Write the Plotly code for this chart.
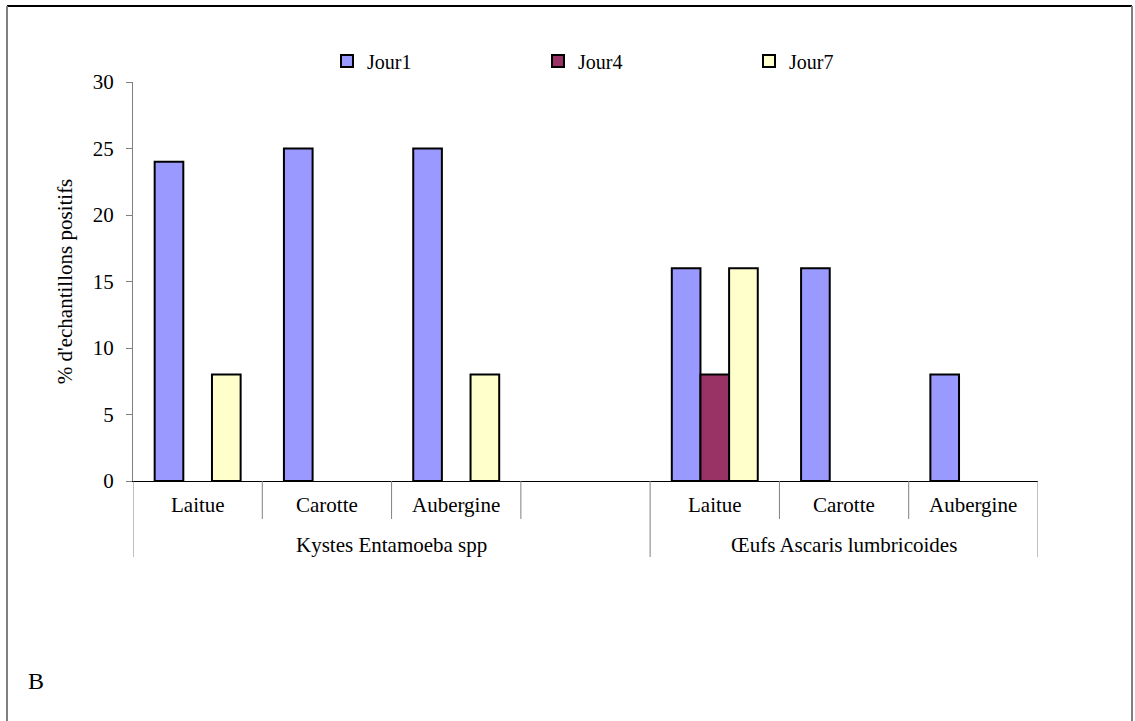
import plotly.graph_objects as go

categories = ["Laitue", "Carotte", "Aubergine", "", "Laitue", "Carotte", "Aubergine"]
groups = ["Kystes Entamoeba spp", "Œufs Ascaris lumbricoides"]
group_spans = [(0, 3), (4, 6)]  # category index ranges (inclusive)
series_names = ["Jour1", "Jour4", "Jour7"]
jour1 = [24, 25, 25, None, 16, 16, 8]
jour4 = [0, 0, 0, None, 8, 0, 0]
jour7 = [8, 0, 8, None, 16, 0, 0]
colors = ["#9999FF", "#993366", "#FFFFCC"]
yticks = [0, 5, 10, 15, 20, 25, 30]

W, H = 1135, 721
L, R, T, B = 133, 1038, 82, 481
FONT = "Liberation Serif, Times New Roman, serif"

def px_x(px):
    return (px - L) / (R - L)

def px_y(py):
    return (B - py) / (B - T)

xs = list(range(len(categories)))
fig = go.Figure()
for name, vals, col in zip(series_names, [jour1, jour4, jour7], colors):
    # zero values are not drawn (Excel shows nothing for a zero-height bar)
    shown = [v if v else None for v in vals]
    fig.add_trace(go.Bar(x=xs, y=shown, name=name,
                         marker=dict(color=col, line=dict(color="black", width=2))))

shapes = []
# category dividers
for i in range(len(categories) + 1):
    xpos = i - 0.5
    long = any(xpos == s - 0.5 or xpos == e + 0.5 for s, e in group_spans)
    shapes.append(dict(type="line", xref="x", yref="paper", x0=xpos, x1=xpos,
                       y0=0, y1=px_y(557) if long else px_y(519),
                       line=dict(color="#808080", width=1)))
# outer frame
shapes.append(dict(type="line", xref="paper", yref="paper", x0=px_x(7), x1=px_x(1132),
                   y0=px_y(6), y1=px_y(6), line=dict(color="black", width=2)))
shapes.append(dict(type="line", xref="paper", yref="paper", x0=px_x(7), x1=px_x(7),
                   y0=px_y(6), y1=px_y(721), line=dict(color="#808080", width=2)))
shapes.append(dict(type="line", xref="paper", yref="paper", x0=px_x(1132), x1=px_x(1132),
                   y0=px_y(6), y1=px_y(721), line=dict(color="#808080", width=2)))

annotations = []
for i, c in enumerate(categories):
    if c:
        annotations.append(dict(x=i, y=px_y(505), xref="x", yref="paper", text=c, showarrow=False,
                                font=dict(family=FONT, size=21, color="black"), yanchor="middle"))
for g, (s, e) in zip(groups, group_spans):
    annotations.append(dict(x=(s + e) / 2, y=px_y(545), xref="x", yref="paper", text=g, showarrow=False,
                            font=dict(family=FONT, size=21, color="black"), yanchor="middle"))
annotations.append(dict(x=px_x(26), y=px_y(681), xref="paper", yref="paper", text="B", showarrow=False,
                        xanchor="left", font=dict(family=FONT, size=24, color="black"), yanchor="middle"))

fig.update_layout(
    width=W, height=H,
    margin=dict(l=L, r=W - R, t=T, b=H - B, autoexpand=False),
    paper_bgcolor="white", plot_bgcolor="white",
    barmode="group", bargap=0.335, bargroupgap=0,
    font=dict(family=FONT, size=21, color="black"),
    xaxis=dict(range=[-0.5, len(categories) - 0.5], showticklabels=False, showgrid=False,
               zeroline=False, showline=True, linecolor="black", linewidth=1, ticks=""),
    yaxis=dict(range=[0, 30], tickvals=yticks, showgrid=False, zeroline=False, showline=True,
               linecolor="#808080", linewidth=1, ticks="outside", ticklen=6, tickcolor="#808080",
               ticklabelstandoff=8,
               tickfont=dict(family=FONT, size=21),
               title=dict(text="% d'echantillons positifs", font=dict(family=FONT, size=21), standoff=14)),
    legend=dict(orientation="h", x=px_x(327), xanchor="left", y=px_y(61), yanchor="middle",
                font=dict(family=FONT, size=20), entrywidth=166, entrywidthmode="pixels",
                bgcolor="rgba(0,0,0,0)"),
    shapes=shapes, annotations=annotations,
)
fig.write_html("out.html")
